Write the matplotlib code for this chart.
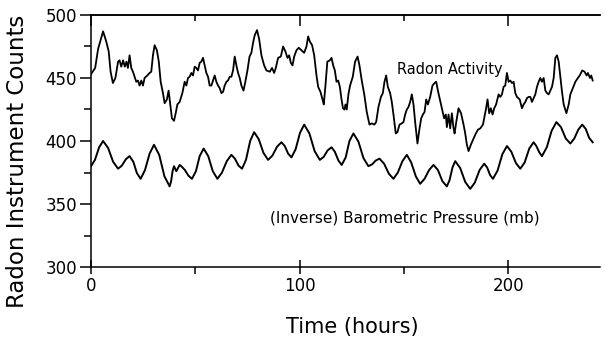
import matplotlib
matplotlib.use("Agg")
import matplotlib.pyplot as plt
from matplotlib.ticker import MultipleLocator

# Radon activity trace (hours, instrument counts)
radon_hours = [
    0.0, 2.0, 3.4, 5.8, 7.3, 8.5, 9.4, 10.5, 11.7, 13.0, 13.7, 14.5, 15.4, 16.2, 17.0, 17.7,
    18.5, 19.3, 20.1, 20.9, 21.7, 22.5, 23.3, 24.1, 24.9, 25.7, 27.0, 28.1, 28.9, 29.7, 30.5,
    31.6, 32.5, 33.4, 34.5, 35.3, 36.4, 37.2, 38.0, 38.8, 39.8, 40.6, 41.4, 42.5, 43.8, 44.9,
    45.7, 46.5, 47.3, 48.1, 48.9, 49.7, 50.5, 51.3, 52.1, 52.9, 53.7, 54.5, 55.3, 56.1, 56.9,
    57.7, 58.5, 59.3, 60.1, 60.9, 61.7, 62.5, 63.3, 64.1, 64.9, 65.7, 66.5, 67.3, 68.1, 68.9,
    69.7, 70.5, 71.3, 72.1, 73.1, 74.0, 75.0, 76.0, 76.9, 77.7, 78.5, 79.6, 80.6, 81.7, 83.0,
    84.1, 85.7, 86.8, 87.8, 88.6, 89.7, 91.0, 92.1, 93.2, 94.2, 95.0, 95.8, 96.6, 97.4, 98.5,
    99.6, 100.9, 102.2, 103.3, 104.1, 104.9, 106.0, 107.0, 108.1, 108.9, 110.0, 111.0, 111.6,
    112.4, 113.3, 114.5, 115.3, 116.1, 116.9, 117.7, 118.5, 119.3, 120.1, 120.8, 121.5, 122.0,
    122.6, 123.4, 124.2, 125.5, 126.6, 127.8, 128.7, 129.8, 131.0, 132.2, 133.5, 134.6, 135.8,
    136.7, 137.8, 139.0, 139.9, 140.7, 141.5, 142.3, 143.4, 144.2, 145.0, 146.1, 146.9, 147.9,
    149.0, 149.8, 150.6, 151.4, 152.2, 153.0, 153.8, 154.6, 155.4, 156.5, 157.5, 158.3, 159.1,
    159.9, 160.7, 161.5, 162.6, 163.7, 164.7, 165.5, 166.3, 167.1, 168.2, 169.3, 170.1, 170.6,
    171.4, 172.2, 173.0, 173.8, 174.3, 175.1, 176.2, 177.4, 178.6, 179.4, 180.2, 181.0, 182.1,
    183.4, 184.5, 185.5, 186.6, 187.9, 188.5, 189.3, 190.1, 190.9, 191.7, 192.5, 193.3, 194.2,
    195.4, 196.2, 197.0, 197.8, 198.6, 199.4, 200.2, 201.0, 201.8, 202.6, 203.4, 204.2, 205.5,
    206.6, 207.4, 208.2, 209.0, 209.8, 210.6, 211.4, 212.2, 213.0, 213.8, 214.6, 215.4, 216.2,
    217.0, 217.8, 218.6, 219.4, 220.2, 221.0, 221.8, 222.6, 223.4, 224.2, 225.0, 225.8, 226.6,
    227.9, 229.0, 229.8, 231.0, 232.2, 233.4, 234.3, 235.5, 236.6, 237.6, 238.2, 239.2, 239.8,
    240.5,
]
radon_counts = [
    453, 458, 473, 487, 479, 471, 455, 446, 450, 463, 464, 459, 464, 459, 463, 458,
    468, 458, 455, 451, 447, 448, 444, 448, 444, 450, 452, 454, 455, 468, 476,
    472, 463, 447, 438, 430, 433, 440, 429, 418, 416, 422, 429, 431, 438, 447,
    444, 450, 451, 454, 452, 459, 458, 456, 462, 463, 466, 460, 454, 451, 444,
    444, 448, 452, 447, 444, 442, 438, 439, 444, 447, 448, 451, 451, 456, 467,
    460, 454, 450, 444, 440, 447, 456, 467, 470, 478, 484, 488, 481, 468, 460,
    456, 455, 458, 454, 458, 466, 467, 475, 471, 466, 468, 462, 460, 467, 472,
    474, 472, 470, 475, 483, 479, 476, 468, 452, 443, 439, 433, 429,
    444, 463, 464, 466, 460, 456, 447, 448, 443, 433, 426, 425, 429,
    425, 437, 444, 451, 463, 467, 460, 448, 437, 423, 413, 414, 413,
    415, 427, 435, 438, 447, 452, 443, 438, 431, 421, 406, 407, 413,
    414, 415, 421, 425, 427, 431, 437, 429, 415, 398, 410, 418, 421,
    423, 433, 429, 435, 444, 446, 447, 440, 434, 426, 418, 421, 411,
    421, 410, 422, 410, 406, 415, 426, 422, 413, 406, 397, 392, 397,
    402, 406, 409, 410, 413, 418, 425, 433, 422, 426, 421, 426, 429,
    437, 435, 437, 443, 444, 454, 447, 448, 446, 447, 438, 435, 433,
    426, 429, 431, 434, 435, 435, 431, 434, 437, 443, 447, 450, 447,
    450, 440, 438, 437, 440, 443, 450, 466, 468, 463, 451, 439, 429,
    422, 429, 437, 442, 447, 450, 452, 456, 455, 452, 454, 450, 452,
    448,
]

# (Inverse) barometric pressure trace, plotted on the same count scale
pressure_hours = [
    0.0, 1.9, 3.9, 5.8, 8.2, 10.6, 13.0, 14.8, 16.7, 18.5, 20.3, 22.0, 23.8, 25.9, 28.1, 30.2,
    32.7, 35.2, 37.7, 38.4, 39.1, 39.8, 40.9, 42.5, 43.3, 45.0, 46.7, 48.4, 50.3, 52.1, 54.0,
    56.2, 58.4, 60.6, 62.8, 65.1, 67.3, 69.0, 70.7, 72.4, 74.3, 76.3, 78.2, 80.4, 82.7, 84.9,
    87.0, 89.2, 91.3, 92.9, 94.5, 96.1, 98.1, 100.2, 102.2, 104.7, 107.2, 109.7, 111.6, 113.4,
    115.3, 116.9, 118.6, 120.2, 122.1, 123.9, 125.8, 128.2, 130.6, 133.0, 134.8, 136.5, 138.3,
    140.5, 142.8, 145.0, 147.1, 149.3, 151.4, 153.5, 155.7, 157.8, 159.9, 162.1, 164.2, 166.3,
    168.5, 170.6, 171.9, 173.3, 174.6, 177.0, 179.4, 181.8, 184.0, 186.3, 188.5, 189.9, 191.3,
    192.7, 194.9, 197.2, 199.4, 201.5, 203.7, 205.8, 207.9, 210.1, 212.2, 213.5, 214.9, 216.2,
    218.5, 220.8, 223.1, 225.3, 227.6, 229.8, 231.7, 233.6, 235.5, 237.2, 238.8, 240.5,
]
pressure_counts = [
    380, 385, 395, 400, 394.5, 383.5, 378, 380.5, 385.5, 388, 383.5, 374.5, 370, 377, 390, 397,
    389, 372, 364, 368, 376, 380, 376, 381, 380, 377, 372.5, 370, 376, 388, 394,
    388, 376, 370, 375, 384, 389, 386, 380.5, 378, 385, 400, 407, 401.5, 390.5, 385,
    388.5, 395.5, 399, 396, 390, 387, 393.5, 406.5, 413, 406, 392, 385, 387.5, 392.5,
    395, 391.5, 384.5, 381, 387, 400, 406, 399.5, 386.5, 380, 381.5, 384.5, 386,
    382, 374, 370, 375, 384, 389, 383, 372, 366, 370, 377, 381, 377,
    368, 364, 369, 379, 384, 378.5, 367.5, 362, 367, 377, 382, 379, 373,
    370, 376.5, 389.5, 396, 391.5, 382.5, 378, 383, 394, 399, 396, 391, 388,
    395, 408, 415, 411, 402, 398, 402, 409, 413, 409.5, 402.5, 399,
]

x_ticks = [0, 100, 200]
y_ticks = [300, 350, 400, 450, 500]

fig = plt.figure(figsize=(6.05, 3.37), dpi=100)
ax = fig.add_axes([0.1504, 0.2077, 0.8413, 0.7478])

ax.plot(radon_hours, radon_counts, color="black", lw=1.3)
ax.plot(pressure_hours, pressure_counts, color="black", lw=1.4)

ax.set_xlim(0, 244)
ax.set_ylim(300, 500)
ax.set_xticks(x_ticks)
ax.set_yticks(y_ticks)
ax.xaxis.set_minor_locator(MultipleLocator(50))
ax.yaxis.set_minor_locator(MultipleLocator(25))
ax.spines["right"].set_visible(False)
for s in ["left", "bottom", "top"]:
    ax.spines[s].set_linewidth(1.1)

ax.tick_params(axis="x", which="major", direction="inout", length=10, width=1.1,
               labelsize=12, pad=2)
ax.tick_params(axis="x", which="minor", direction="out", length=5, width=1.1)
ax.tick_params(axis="y", which="major", direction="out", length=8, width=1.1,
               labelsize=12, pad=2)
ax.tick_params(axis="y", which="minor", direction="out", length=5, width=1.1)

# ticks along the top edge point inward
top = ax.secondary_xaxis("top")
top.set_xticks(x_ticks)
top.xaxis.set_minor_locator(MultipleLocator(50))
top.tick_params(which="major", direction="in", length=8, width=1.1, labeltop=False)
top.tick_params(which="minor", direction="in", length=4, width=1.1)
top.spines["top"].set_linewidth(1.1)

ax.text(172, 457, "Radon Activity", ha="center", va="center", fontsize=10.5)
ax.text(150.6, 339, "(Inverse) Barometric Pressure (mb)", ha="center", va="center",
        fontsize=11)

ax.set_xlabel("Time (hours)", fontsize=15)
ax.xaxis.set_label_coords(0.513, -0.2)
ax.set_ylabel("Radon Instrument Counts", fontsize=16.5)
ax.yaxis.set_label_coords(-0.122, 0.42)

fig.savefig("out.png", dpi=100)
